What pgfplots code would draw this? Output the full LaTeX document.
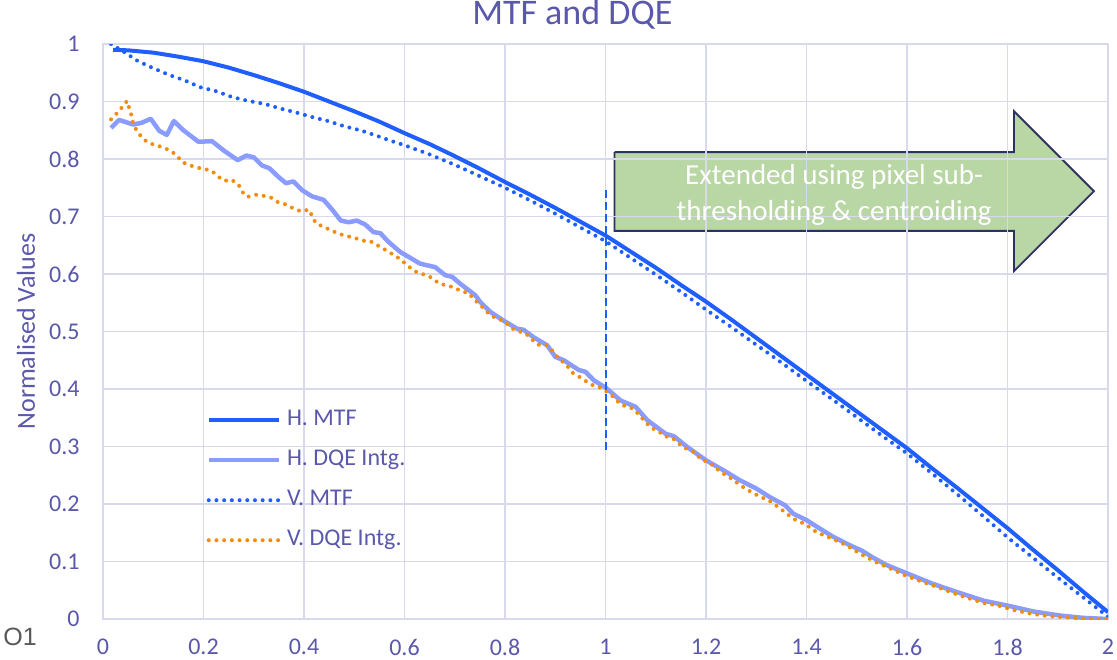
\documentclass[border=0pt]{standalone}
\usepackage{pgfplots}
\pgfplotsset{compat=1.18}
\usepackage{fontspec}
\setmainfont{Carlito}
\newfontfamily\arialfont{Liberation Sans}
\definecolor{txt}{RGB}{90,88,170}
\definecolor{gridc}{RGB}{217,217,238}
\definecolor{hmtf}{RGB}{31,94,255}
\definecolor{hdqe}{RGB}{138,156,255}
\definecolor{vdqe}{RGB}{242,140,12}
\definecolor{arrowfill}{RGB}{185,214,165}
\definecolor{arrowdraw}{RGB}{45,50,95}
\definecolor{otxt}{RGB}{89,89,89}
\begin{document}
\begin{tikzpicture}
\begin{axis}[
  at={(0,0)}, anchor=south west,
  scale only axis, width=502.5pt, height=287.5pt,
  set layers,
  xmin=0, xmax=2, ymin=0, ymax=1,
  xtick={0,0.2,0.4,0.6,0.8,1,1.2,1.4,1.6,1.8,2},
  ytick={0,0.1,0.2,0.3,0.4,0.5,0.6,0.7,0.8,0.9,1},
  grid=major,
  major grid style={draw=gridc, line width=0.75pt},
  axis line style={draw=gridc, line width=0.75pt},
  major tick length=0pt,
  /pgf/number format/assume math mode=true,
  /pgf/number format/fixed,
  ticklabel style={font=\fontsize{12}{14}\selectfont, text=txt, inner sep=0pt},
  xticklabel style={anchor=north, yshift=-10pt, text depth=0pt},
  yticklabel style={anchor=east, xshift=-11.5pt},
  title={MTF and DQE},
  title style={at={(axis description cs:0.467,1.0122)}, anchor=base, font=\fontsize{18}{22}\selectfont, text=txt, inner sep=0pt},
  ylabel={Normalised Values},
  ylabel style={at={(axis description cs:-0.0677,0.5)}, anchor=base, font=\fontsize{13}{15}\selectfont, text=txt, inner sep=0pt},
  legend style={at={(0.103,0.364)}, anchor=north west, draw=none, fill=none, inner sep=0pt, outer sep=0pt, row sep=9.5pt, column sep=3pt, font=\fontsize{12}{14}\selectfont, text=txt, nodes={inner sep=0pt, text height=8pt, text depth=2.5pt}},
  legend cell align=left,
  legend image code/.code={\draw[#1] (0pt,0pt) -- (35pt,0pt);},
]
% arrow annotation (behind grid)
\addplot[on layer=axis background, fill=arrowfill, draw=arrowdraw, line width=0.9pt, line join=miter, forget plot] coordinates {(1.018,0.812) (1.813,0.812) (1.813,0.883) (1.972,0.744) (1.813,0.605) (1.813,0.675) (1.018,0.675) (1.018,0.812)};

\addplot[hmtf, line width=2pt, line join=round] coordinates {
(0.02,0.990) (0.05,0.989) (0.1,0.985) (0.15,0.978) (0.2,0.970) (0.25,0.959) (0.3,0.946) (0.35,0.932) (0.4,0.917) (0.45,0.900) (0.5,0.883) (0.55,0.865) (0.6,0.845) (0.65,0.826) (0.7,0.805) (0.75,0.783) (0.8,0.760) (0.85,0.738) (0.9,0.715) (0.95,0.691) (1.0,0.667) (1.05,0.639) (1.1,0.611) (1.15,0.581) (1.2,0.552) (1.25,0.521) (1.3,0.489) (1.35,0.457) (1.4,0.425) (1.45,0.393) (1.5,0.361) (1.55,0.329) (1.6,0.297) (1.65,0.262) (1.7,0.228) (1.75,0.193) (1.8,0.158) (1.85,0.121) (1.9,0.085) (1.95,0.048) (2.0,0.012)};
\addlegendentry{H. MTF}

\addplot[hdqe, line width=2.25pt, line join=round] coordinates {
(0.016,0.854) (0.032,0.868) (0.06,0.860) (0.077,0.863) (0.095,0.870) (0.112,0.849) (0.127,0.842) (0.141,0.866) (0.160,0.850) (0.19,0.830) (0.217,0.831) (0.24,0.815) (0.268,0.798) (0.285,0.806) (0.30,0.803) (0.316,0.789) (0.331,0.784) (0.349,0.769) (0.364,0.758) (0.379,0.761) (0.396,0.746) (0.416,0.735) (0.439,0.729) (0.457,0.711) (0.473,0.693) (0.489,0.690) (0.505,0.693) (0.522,0.686) (0.538,0.673) (0.552,0.671) (0.568,0.656) (0.592,0.638) (0.602,0.633) (0.631,0.618) (0.661,0.612) (0.681,0.598) (0.695,0.595) (0.711,0.583) (0.741,0.563) (0.751,0.551) (0.771,0.534) (0.797,0.519) (0.824,0.505) (0.837,0.503) (0.857,0.490) (0.884,0.476) (0.900,0.456) (0.917,0.450) (0.947,0.433) (0.960,0.430) (0.977,0.415) (1.001,0.402) (1.030,0.380) (1.060,0.369) (1.083,0.346) (1.106,0.331) (1.120,0.322) (1.136,0.318) (1.163,0.299) (1.2,0.276) (1.234,0.259) (1.268,0.241) (1.3,0.227) (1.327,0.212) (1.357,0.198) (1.374,0.183) (1.4,0.172) (1.427,0.157) (1.453,0.143) (1.487,0.128) (1.51,0.119) (1.53,0.108) (1.559,0.094) (1.601,0.079) (1.652,0.061) (1.699,0.047) (1.752,0.032) (1.802,0.023) (1.852,0.013) (1.905,0.006) (1.951,0.002) (2.0,0.0)};
\addlegendentry{H. DQE Intg.}

\addplot[hmtf, line width=2pt, line cap=round, dash pattern=on 0pt off 3.85pt] coordinates {
(0.016,1.0) (0.044,0.985) (0.07,0.970) (0.1,0.958) (0.132,0.946) (0.162,0.937) (0.193,0.925) (0.225,0.918) (0.256,0.908) (0.289,0.901) (0.321,0.896) (0.352,0.888) (0.384,0.881) (0.416,0.873) (0.448,0.866) (0.48,0.857) (0.512,0.850) (0.543,0.841) (0.575,0.831) (0.6,0.824) (0.65,0.808) (0.7,0.790) (0.75,0.770) (0.8,0.750) (0.85,0.728) (0.9,0.705) (0.95,0.681) (1.0,0.657) (1.05,0.628) (1.1,0.599) (1.15,0.569) (1.2,0.538) (1.25,0.508) (1.3,0.477) (1.35,0.446) (1.4,0.414) (1.45,0.383) (1.5,0.351) (1.55,0.319) (1.6,0.288) (1.65,0.253) (1.7,0.217) (1.75,0.180) (1.8,0.142) (1.85,0.107) (1.9,0.072) (1.95,0.038) (2.0,0.004)};
\addlegendentry{V. MTF}

\addplot[vdqe, line width=2pt, line cap=round, dash pattern=on 0pt off 3.85pt] coordinates {
(0.016,0.869) (0.027,0.879) (0.038,0.890) (0.048,0.901) (0.052,0.889) (0.057,0.875) (0.06,0.861) (0.068,0.848) (0.078,0.837) (0.09,0.828) (0.106,0.824) (0.12,0.820) (0.135,0.814) (0.147,0.806) (0.157,0.795) (0.17,0.790) (0.187,0.785) (0.201,0.783) (0.217,0.779) (0.230,0.769) (0.241,0.762) (0.256,0.764) (0.27,0.755) (0.277,0.743) (0.287,0.734) (0.303,0.738) (0.319,0.736) (0.334,0.733) (0.348,0.725) (0.364,0.721) (0.379,0.714) (0.394,0.709) (0.41,0.712) (0.417,0.699) (0.424,0.688) (0.439,0.682) (0.454,0.676) (0.469,0.670) (0.485,0.666) (0.5,0.663) (0.517,0.658) (0.532,0.657) (0.546,0.650) (0.560,0.643) (0.575,0.635) (0.588,0.628) (0.602,0.618) (0.614,0.609) (0.628,0.601) (0.641,0.599) (0.655,0.593) (0.668,0.584) (0.683,0.580) (0.698,0.577) (0.713,0.570) (0.728,0.567) (0.737,0.557) (0.75,0.547) (0.761,0.537) (0.773,0.527) (0.788,0.522) (0.802,0.515) (0.815,0.505) (0.829,0.500) (0.842,0.496) (0.854,0.486) (0.867,0.477) (0.882,0.477) (0.894,0.467) (0.904,0.456) (0.914,0.448) (0.925,0.439) (0.935,0.428) (0.95,0.420) (0.964,0.412) (0.978,0.405) (0.991,0.402) (1.005,0.394) (1.016,0.386) (1.029,0.374) (1.042,0.369) (1.055,0.366) (1.067,0.355) (1.079,0.343) (1.092,0.332) (1.105,0.327) (1.118,0.318) (1.133,0.315) (1.146,0.305) (1.159,0.297) (1.173,0.292) (1.187,0.281) (1.2,0.274) (1.215,0.267) (1.227,0.257) (1.24,0.25) (1.253,0.243) (1.266,0.234) (1.28,0.226) (1.294,0.219) (1.309,0.212) (1.324,0.207) (1.337,0.199) (1.351,0.190) (1.364,0.181) (1.377,0.173) (1.392,0.167) (1.406,0.160) (1.42,0.151) (1.45,0.140) (1.48,0.128) (1.506,0.114) (1.536,0.100) (1.566,0.088) (1.596,0.076) (1.626,0.066) (1.659,0.056) (1.689,0.046) (1.719,0.037) (1.752,0.028) (1.783,0.023) (1.815,0.015) (1.848,0.009) (1.881,0.005) (1.914,0.003) (1.948,0.001) (1.981,0.0) (2.0,0.0)};
\addlegendentry{V. DQE Intg.}

\addplot[hmtf, line width=1pt, dash pattern=on 4pt off 2pt, forget plot] coordinates {(1,0.294) (1,0.746)};

\node[text=white, font=\fontsize{14.5}{18}\selectfont, align=center] at (axis cs:1.455,0.737) {Extended using pixel sub-\\thresholding \& centroiding};
\end{axis}
\node[anchor=base west, inner sep=0pt, font=\arialfont\fontsize{12.5}{15}\selectfont, text=otxt] at (-50pt,-13pt) {O1};
\path (-51.5pt,-20pt) rectangle (507pt,308.5pt);
\end{tikzpicture}
\end{document}
